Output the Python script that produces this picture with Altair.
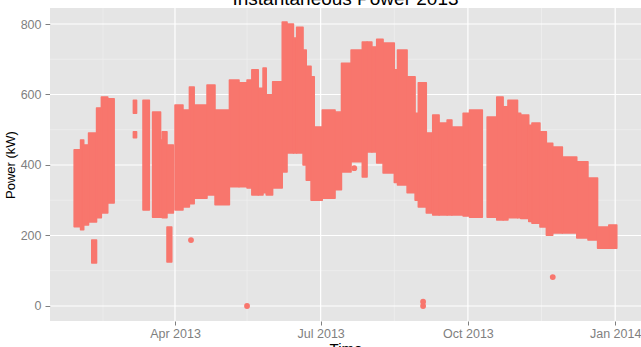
import altair as alt
import pandas as pd

TITLE = "Instantaneous Power 2013"

# Envelope of the dense point cloud, read per time segment (kW)
seg_start = ["2013-01-28", "2013-02-01", "2013-02-03", "2013-02-06", "2013-02-11", "2013-02-14", "2013-02-18",
             "2013-02-08", "2013-03-06", "2013-03-06", "2013-03-12", "2013-03-18", "2013-03-23", "2013-03-24",
             "2013-03-27", "2013-03-27",
             "2013-04-01", "2013-04-06", "2013-04-10", "2013-04-13", "2013-04-21", "2013-04-26", "2013-05-05",
             "2013-05-11", "2013-05-16", "2013-05-19", "2013-05-23", "2013-05-26", "2013-05-28", "2013-06-01",
             "2013-06-07", "2013-06-10", "2013-06-14", "2013-06-16", "2013-06-20", "2013-06-22", "2013-06-25",
             "2013-06-27", "2013-07-02", "2013-07-10", "2013-07-14", "2013-07-20", "2013-07-27", "2013-07-30",
             "2013-08-02", "2013-08-05", "2013-08-09", "2013-08-16", "2013-08-18", "2013-08-24", "2013-08-29",
             "2013-08-31", "2013-09-05", "2013-09-09", "2013-09-13", "2013-09-18", "2013-09-21", "2013-09-28",
             "2013-10-02", "2013-10-13", "2013-10-19", "2013-10-23", "2013-10-26", "2013-11-01", "2013-11-03",
             "2013-11-08", "2013-11-10", "2013-11-15", "2013-11-19", "2013-11-23", "2013-11-29", "2013-12-08",
             "2013-12-15", "2013-12-21", "2013-12-28"]
seg_end = ["2013-02-01", "2013-02-03", "2013-02-06", "2013-02-11", "2013-02-14", "2013-02-18", "2013-02-22",
           "2013-02-11", "2013-03-08", "2013-03-08", "2013-03-16", "2013-03-23", "2013-03-24", "2013-03-27",
           "2013-03-31", "2013-03-30",
           "2013-04-06", "2013-04-10", "2013-04-13", "2013-04-21", "2013-04-26", "2013-05-05", "2013-05-11",
           "2013-05-16", "2013-05-19", "2013-05-23", "2013-05-26", "2013-05-28", "2013-06-01", "2013-06-07",
           "2013-06-10", "2013-06-14", "2013-06-16", "2013-06-20", "2013-06-22", "2013-06-25", "2013-06-27",
           "2013-07-02", "2013-07-10", "2013-07-14", "2013-07-20", "2013-07-27", "2013-07-30", "2013-08-02",
           "2013-08-05", "2013-08-09", "2013-08-16", "2013-08-18", "2013-08-24", "2013-08-29", "2013-08-31",
           "2013-09-05", "2013-09-09", "2013-09-13", "2013-09-18", "2013-09-21", "2013-09-28", "2013-10-02",
           "2013-10-10", "2013-10-19", "2013-10-23", "2013-10-26", "2013-11-01", "2013-11-03", "2013-11-08",
           "2013-11-10", "2013-11-15", "2013-11-19", "2013-11-23", "2013-11-29", "2013-12-08", "2013-12-15",
           "2013-12-21", "2013-12-28", "2014-01-02"]
seg_low = [225, 216, 230, 238, 250, 264, 292,
           122, 547, 477, 272, 252, 252, 250,
           264, 125,
           272, 281, 290, 306, 315, 287, 338,
           338, 335, 315, 315, 321, 315, 335,
           380, 434, 434, 434, 400, 357, 300,
           300, 306, 330, 380, 409, 366, 437,
           437, 406, 377, 350, 343, 321, 300,
           281, 264, 258, 258, 258, 258, 255,
           252, 252, 244, 244, 250, 250, 248,
           240, 235, 224, 201, 207, 207, 193,
           187, 164, 164]
seg_high = [443, 471, 457, 491, 562, 593, 588,
            187, 584, 494, 584, 550, 471, 494,
            457, 224,
            570, 556, 621, 570, 627, 556, 641,
            633, 641, 670, 618, 675, 599, 636,
            806, 800, 760, 791, 726, 680, 650,
            508, 556, 550, 689, 726, 749, 749,
            735, 757, 746, 670, 726, 650, 547,
            633, 491, 542, 519, 528, 508, 547,
            556, 536, 593, 565, 584, 547, 542,
            513, 519, 494, 462, 451, 423, 409,
            363, 224, 230]

# Isolated readings
pt_date = ["2013-04-11", "2013-05-16", "2013-07-22", "2013-09-03", "2013-09-03", "2013-11-23"]
pt_value = [187, 0, 391, 0, 12, 82]

# Axis breaks / grid
y_major = [0, 200, 400, 600, 800]
y_minor = [100, 300, 500, 700]
x_major = ["2013-04-01", "2013-07-01", "2013-10-01", "2014-01-01"]
x_minor = ["2013-02-15", "2013-05-16", "2013-08-16", "2013-11-16"]

RED = "#F8766D"
GREY = "#7F7F7F"
FONT = "Liberation Sans"
W, H = 591, 313

seg = pd.DataFrame({"date": pd.to_datetime(seg_start), "date2": pd.to_datetime(seg_end),
                    "value": seg_low, "value2": seg_high})
pts = pd.DataFrame({"date": pd.to_datetime(pt_date), "value": pt_value})
ymaj = pd.DataFrame({"value": y_major})
ymin = pd.DataFrame({"value": y_minor})
xmaj = pd.DataFrame({"date": pd.to_datetime(x_major)})
xmin = pd.DataFrame({"date": pd.to_datetime(x_minor)})
ttl = pd.DataFrame({"title": [TITLE]})

xscale = alt.Scale(domain=[alt.DateTime(year=2013, month=1, date=12, hours=22),
                           alt.DateTime(year=2014, month=1, date=17, hours=3)], nice=False)
yscale = alt.Scale(domain=[-42.6, 845.4], nice=False, zero=False)

xaxis = alt.Axis(values=[alt.DateTime(year=2013, month=4, date=1), alt.DateTime(year=2013, month=7, date=1),
                         alt.DateTime(year=2013, month=10, date=1), alt.DateTime(year=2014, month=1, date=1)],
                 format="%b %Y", grid=False, domain=False, tickColor=GREY, tickSize=4, tickWidth=1,
                 labelColor=GREY, labelFont=FONT, labelFontSize=12.5, labelPadding=2, labelFlush=False,
                 titleFont=FONT, titleFontSize=15, titleFontWeight="normal", titleColor="black", titlePadding=2)
yaxis = alt.Axis(values=y_major, grid=False, domain=False, tickColor=GREY, tickSize=5, tickWidth=1,
                 labelColor=GREY, labelFont=FONT, labelFontSize=12.5, labelPadding=4,
                 titleFont=FONT, titleFontSize=13, titleFontWeight="normal", titleColor="black", titlePadding=3)


def X(field="date"):
    return alt.X(f"{field}:T", scale=xscale, axis=xaxis, title="Time")


def Y(field="value"):
    return alt.Y(f"{field}:Q", scale=yscale, axis=yaxis, title="Power (kW)")


g_ymin = alt.Chart(ymin).mark_rule(color="#F2F2F2", strokeWidth=0.6).encode(y=Y())
g_xmin = alt.Chart(xmin).mark_rule(color="#F2F2F2", strokeWidth=0.6).encode(x=X())
g_ymaj = alt.Chart(ymaj).mark_rule(color="white", strokeWidth=1.2).encode(y=Y())
g_xmaj = alt.Chart(xmaj).mark_rule(color="white", strokeWidth=1.2).encode(x=X())

bands = alt.Chart(seg).mark_rect(color=RED, stroke=RED, strokeWidth=1.5, strokeJoin="round",
                                 opacity=1).encode(
    x=X(), x2="date2:T", y=Y(), y2="value2:Q")
dots = alt.Chart(pts).mark_circle(color=RED, size=34, opacity=1).encode(x=X(), y=Y())

# Plot title, partly cut by the top edge as in the reference
title_txt = alt.Chart(ttl).mark_text(font=FONT, fontSize=19, color="black", align="center",
                                     baseline="alphabetic", clip=False).encode(
    text="title:N", x=alt.value(W / 2), y=alt.value(-3.5))

chart = alt.layer(g_ymin, g_xmin, g_ymaj, g_xmaj, bands, dots, title_txt).properties(
    width=W, height=H,
    autosize=alt.AutoSizeParams(type="none"),
    padding={"left": 50, "top": 8, "right": 0, "bottom": 26},
    background="white",
).configure_view(fill="#E5E5E5", strokeWidth=0)

chart.save("out.html", embed_options={"renderer": "svg", "actions": False})
